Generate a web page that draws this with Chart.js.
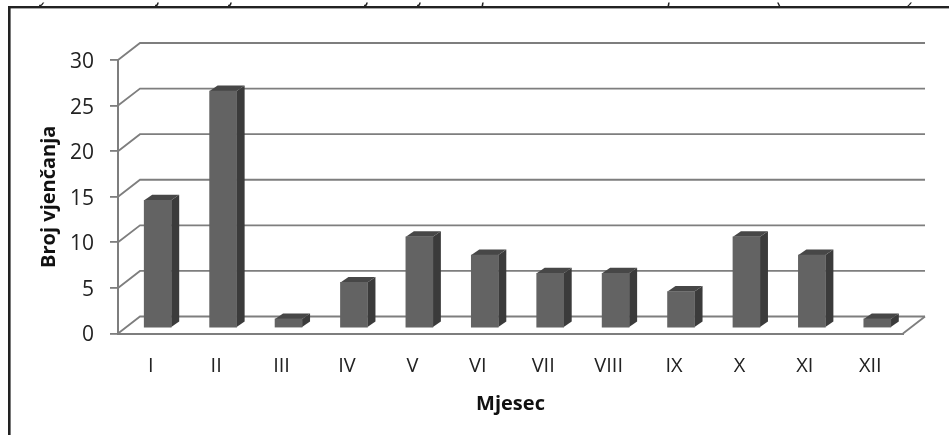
<!DOCTYPE html>
<html>
<head>
<meta charset="utf-8">
<script src="https://cdn.jsdelivr.net/npm/chart.js@4/dist/chart.umd.min.js"></script>
<style>
  html, body { margin: 0; padding: 0; background: #fff; overflow: hidden; }
  canvas { display: block; }
</style>
</head>
<body>
<canvas id="weddingsChart" width="949" height="435"></canvas>
<script>
const months = ['I', 'II', 'III', 'IV', 'V', 'VI', 'VII', 'VIII', 'IX', 'X', 'XI', 'XII'];
const weddings = [14, 26, 1, 5, 10, 8, 6, 6, 4, 10, 8, 1];

// caption above the frame is cut off in the source, only these descenders show
const captionGlyphs = ['y', 'j', 'j', 'j', 'j', 'p', 'p', '(', ')'];
const captionGlyphX = [40, 157, 230, 366, 419, 482, 668, 776, 909];

const gridColor = '#7e7e7e';
const font = '"Open Sans", sans-serif';

// 3D look
const wallDx = 22, wallDy = -17;     // back wall relative to front plane
const barDx = 7, barDy = -5.5;       // bar front face relative to front plane
const sideDx = 8, sideDy = -5.5;     // bar depth

const frame3d = {
    id: 'frame3d',
    beforeDatasetsDraw(chart) {
        const { ctx, chartArea: area, scales: { y } } = chart;
        ctx.save();

        // frame and clipped caption
        ctx.fillStyle = '#222';
        ctx.fillRect(8, 6, 941, 2.4);
        ctx.fillRect(8, 6, 2.6, 429);
        ctx.font = 'italic 18px "Liberation Sans"';
        ctx.textBaseline = 'alphabetic';
        captionGlyphs.forEach((g, i) => {
            ctx.save();
            ctx.beginPath();
            ctx.rect(0, 2.5, 949, 3.5);
            ctx.clip();
            ctx.fillText(g, captionGlyphX[i], 1.5);
            ctx.restore();
        });

        // back wall lines and the slanted bits on the side wall
        ctx.strokeStyle = gridColor;
        ctx.lineWidth = 1.8;
        y.ticks.forEach(t => {
            const py = y.getPixelForValue(t.value);
            ctx.beginPath();
            ctx.moveTo(area.left, py);
            ctx.lineTo(area.left + wallDx, py + wallDy);
            ctx.lineTo(area.right + wallDx, py + wallDy);
            ctx.stroke();
        });

        // floor edge on the right
        ctx.beginPath();
        ctx.moveTo(area.right, area.bottom);
        ctx.lineTo(area.right + wallDx, area.bottom + wallDy);
        ctx.stroke();

        ctx.restore();
    },
    beforeDatasetDraw(chart, args) {
        const { ctx } = chart;
        const bars = chart.getDatasetMeta(args.index).data;
        ctx.save();
        ctx.translate(barDx, barDy);

        bars.forEach(bar => {
            const l = bar.x - bar.width / 2, r = bar.x + bar.width / 2;
            // side face
            ctx.fillStyle = '#3b3b3b';
            ctx.beginPath();
            ctx.moveTo(r, bar.y);
            ctx.lineTo(r + sideDx, bar.y + sideDy);
            ctx.lineTo(r + sideDx, bar.base + sideDy);
            ctx.lineTo(r, bar.base);
            ctx.closePath();
            ctx.fill();
            // top face
            ctx.fillStyle = '#474747';
            ctx.beginPath();
            ctx.moveTo(l, bar.y);
            ctx.lineTo(l + sideDx, bar.y + sideDy);
            ctx.lineTo(r + sideDx, bar.y + sideDy);
            ctx.lineTo(r, bar.y);
            ctx.closePath();
            ctx.fill();
        });
    },
    afterDatasetDraw(chart) {
        chart.ctx.restore();
    }
};

new Chart(document.getElementById('weddingsChart'), {
    type: 'bar',
    data: {
        labels: months,
        datasets: [{
            label: 'Broj vjenčanja',
            data: weddings,
            backgroundColor: '#636363',
            barThickness: 27,
            clip: false
        }]
    },
    plugins: [frame3d],
    options: {
        responsive: false,
        animation: false,
        layout: { padding: { top: 60, right: 46 } },
        plugins: {
            legend: { display: false },
            tooltip: { enabled: false }
        },
        scales: {
            x: {
                afterFit: s => { s.height = 101.5; },
                grid: { display: false, drawTicks: false },
                border: { display: true, color: gridColor, width: 2 },
                ticks: { color: '#222', padding: 21, maxRotation: 0, autoSkip: false, font: { family: font, size: 20 } },
                title: {
                    display: true,
                    text: 'Mjesec',
                    color: '#111',
                    font: { family: font, size: 20, weight: 'bold' },
                    padding: { top: 0, bottom: 19 }
                }
            },
            y: {
                min: 0,
                max: 30,
                afterFit: s => { s.width = 118; },
                grid: { drawOnChartArea: false, color: gridColor, tickLength: 8, lineWidth: 1.8 },
                border: { display: true, color: gridColor, width: 2 },
                ticks: { stepSize: 5, color: '#222', padding: 16, labelOffset: 2, font: { family: font, size: 21 } },
                title: {
                    display: true,
                    text: 'Broj vjenčanja',
                    color: '#111',
                    font: { family: font, size: 20, weight: 'bold' },
                    padding: { top: 37, bottom: 0 }
                }
            }
        }
    }
});
</script>
</body>
</html>
